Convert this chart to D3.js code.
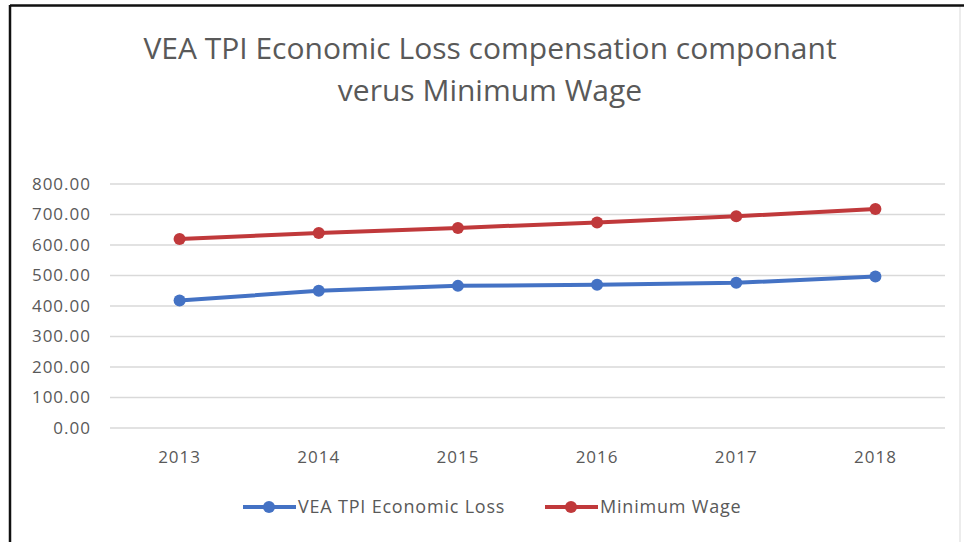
<!DOCTYPE html>
<html>
<head>
<meta charset="utf-8">
<script src="https://cdn.jsdelivr.net/npm/d3@7"></script>
<style>
  body { margin: 0; background: #fff; }
  svg { display: block; font-family: "Open Sans", sans-serif; }
</style>
</head>
<body>
<svg id="chart" width="964" height="542"></svg>
<script>
// data
var years = ["2013", "2014", "2015", "2016", "2017", "2018"];
var economicLoss = [418, 450, 466, 470, 476, 497];
var minimumWage = [620, 639, 656, 674, 694, 718];
var yTicks = [0, 100, 200, 300, 400, 500, 600, 700, 800];
var seriesNames = ["VEA TPI Economic Loss", "Minimum Wage"];
var seriesColors = ["#4472C4", "#C0393B"];
var titleLines = ["VEA TPI Economic Loss compensation componant", "verus Minimum Wage"];

var svg = d3.select("#chart");
var width = 964, height = 542;

// frame
svg.append("rect")
  .attr("x", 10).attr("y", 6)
  .attr("width", 950).attr("height", 540)
  .attr("fill", "#fff")
  .attr("stroke", "#d9d9d9").attr("stroke-width", 1);
svg.append("line").attr("x1", 10).attr("x2", 964).attr("y1", 5.5).attr("y2", 5.5)
  .attr("stroke", "#111").attr("stroke-width", 2.5);
svg.append("line").attr("x1", 10).attr("x2", 10).attr("y1", 5).attr("y2", 542)
  .attr("stroke", "#111").attr("stroke-width", 2.5);

// title
var title = svg.append("g").attr("fill", "#595959");
title.selectAll("text")
  .data(titleLines)
  .enter().append("text")
  .attr("x", 490)
  .attr("y", function(d, i) { return 59 + i * 42; })
  .attr("text-anchor", "middle")
  .style("font-size", "30px")
  .text(function(d) { return d; });

var x = d3.scaleBand().domain(years).range([110, 945]);
var y = d3.scaleLinear().domain([0, 800]).range([428, 184]);

// gridlines
svg.append("g")
  .selectAll("line")
  .data(yTicks)
  .enter().append("line")
  .attr("x1", 110).attr("x2", 945)
  .attr("y1", function(d) { return y(d); })
  .attr("y2", function(d) { return y(d); })
  .attr("stroke", "#d9d9d9").attr("stroke-width", 1.5);

// y axis labels
var yAxis = svg.append("g")
  .attr("transform", "translate(91,0)")
  .call(d3.axisLeft(y).tickValues(yTicks).tickFormat(d3.format(".2f")).tickSize(0).tickPadding(0));
yAxis.select(".domain").remove();
yAxis.selectAll("text").attr("fill", "#595959").style("font-size", "17px")
  .style("letter-spacing", "1px")
  .style("font-family", "'Open Sans', sans-serif");

// x axis labels
var xAxis = svg.append("g")
  .attr("transform", "translate(0,428)")
  .call(d3.axisBottom(x).tickSize(0).tickPadding(23));
xAxis.select(".domain").remove();
xAxis.selectAll("text").attr("fill", "#595959").style("font-size", "17px")
  .style("letter-spacing", "1px")
  .style("font-family", "'Open Sans', sans-serif");

var line = d3.line()
  .x(function(d, i) { return x(years[i]) + x.bandwidth() / 2; })
  .y(function(d) { return y(d); });

[economicLoss, minimumWage].forEach(function(values, k) {
  var g = svg.append("g");
  g.append("path")
    .datum(values)
    .attr("d", line)
    .attr("fill", "none")
    .attr("stroke", seriesColors[k])
    .attr("stroke-width", 4)
    .attr("stroke-linejoin", "round");
  g.selectAll("circle")
    .data(values)
    .enter().append("circle")
    .attr("cx", function(d, i) { return x(years[i]) + x.bandwidth() / 2; })
    .attr("cy", function(d) { return y(d); })
    .attr("r", 6)
    .attr("fill", seriesColors[k]);
});

// legend
var legendX = [243, 545];
var legend = svg.append("g")
  .selectAll("g")
  .data(seriesNames)
  .enter().append("g")
  .attr("transform", function(d, i) { return "translate(" + legendX[i] + ",507)"; });
legend.append("line")
  .attr("x1", 0).attr("x2", 53)
  .attr("stroke", function(d, i) { return seriesColors[i]; })
  .attr("stroke-width", 4);
legend.append("circle")
  .attr("cx", 26).attr("r", 6)
  .attr("fill", function(d, i) { return seriesColors[i]; });
legend.append("text")
  .attr("x", 55).attr("dy", "0.35em")
  .attr("fill", "#595959")
  .style("font-size", "18px")
  .style("letter-spacing", "0.8px")
  .text(function(d) { return d; });
</script>
</body>
</html>
